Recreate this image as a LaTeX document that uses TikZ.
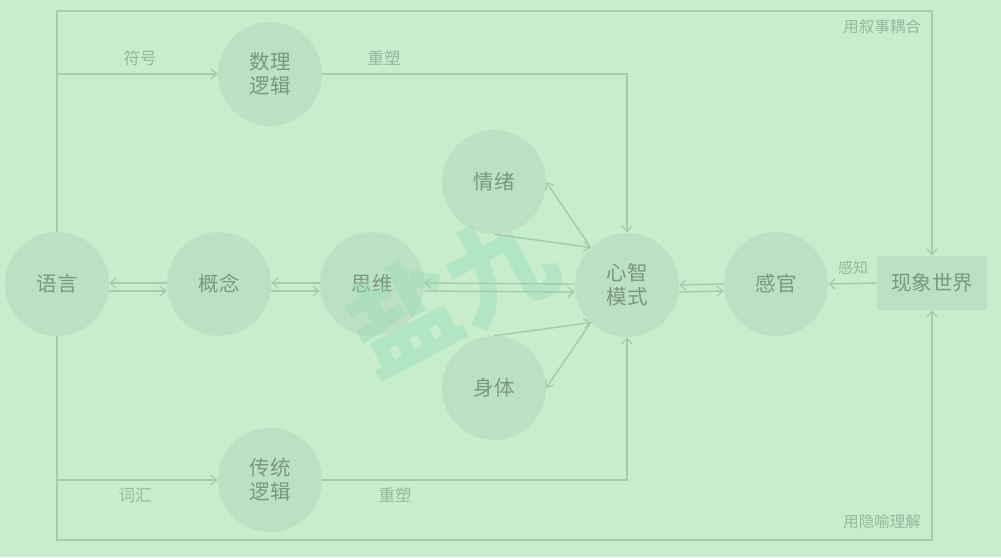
\documentclass[tikz,border=0pt]{standalone}
\usepackage{fontspec}
\newfontfamily\cjk{Noto Sans CJK SC}
\usetikzlibrary{arrows.meta}
\definecolor{bg}{HTML}{C7EDCC}
\definecolor{disc}{HTML}{BCE0C3}
\definecolor{wire}{HTML}{A5CAAC}
\definecolor{ink}{HTML}{7A977F}
\definecolor{softink}{HTML}{98B79E}
\definecolor{mark}{HTML}{96DAB8}
\begin{document}
\begin{tikzpicture}[x=1pt,y=-1pt,
  circ/.style={circle,fill=disc,minimum size=104pt,inner sep=0pt,
    text=ink,font=\cjk\fontsize{20.5}{24}\selectfont,align=center},
  boxnode/.style={rectangle,fill=disc,minimum width=110pt,minimum height=54pt,
    inner sep=0pt,text=ink,font=\cjk\fontsize{20.5}{24}\selectfont},
  lbl/.style={text=softink,font=\cjk\fontsize{16.5}{18}\selectfont,inner sep=0pt},
  corner/.style={text=softink,font=\cjk\fontsize{15.5}{18}\selectfont,inner sep=0pt},
  wirestyle/.style={draw=wire,line width=1.4pt},
  arr/.style={wirestyle,-{Straight Barb[length=6pt,width=10pt,line width=1.2pt]}},
]
% canvas
\fill[bg] (0,0) rectangle (1001,557);
\useasboundingbox (0,0) rectangle (1001,557);

% nodes
\node[circ] (yy) at (57,284) {语言};
\node[circ] (gn) at (219,284) {概念};
\node[circ] (sw) at (372,284) {思维};
\node[circ] (xz) at (627,285) {心智\\模式};
\node[circ] (gg) at (776,284) {感官};
\node[boxnode] (world) at (932,283) {现象世界};
\node[circ] (sl) at (270,74) {数理\\逻辑};
\node[circ] (ct) at (270,480) {传统\\逻辑};
\node[circ] (qx) at (494,182) {情绪};
\node[circ] (st) at (494,388) {身体};

% watermark
\node[text=mark,opacity=0.42,font=\cjk\bfseries\fontsize{108}{108}\selectfont,
  rotate=28,inner sep=0pt] (wm) at (451,292) {盐九};

% outer frame
\coordinate (tl) at (57,11);
\coordinate (bl) at (57,540);
\draw[arr] (yy.north) -- (tl) -| (world.north);
\draw[arr] (yy.south) -- (bl) -| (world.south);

% logic branches
\draw[arr] (yy.north |- sl.west) -- (sl.west);
\draw[arr] (sl.east) -| (xz.north);
\draw[arr] (yy.south |- ct.west) -- (ct.west);
\draw[arr] (ct.east) -| (xz.south);

% paired arrows along the main row
\draw[arr] ([yshift=1pt]gn.west) -- ([yshift=1pt]yy.east);
\draw[arr] ([yshift=-7pt]yy.east) -- ([yshift=-7pt]gn.west);
\draw[arr] ([yshift=1pt]sw.west) -- ([yshift=1pt]gn.east);
\draw[arr] ([yshift=-7pt]gn.east) -- ([yshift=-7pt]sw.west);
\draw[arr] ([yshift=1pt]xz.west) -- ([yshift=1pt]sw.east);
\draw[arr] ([yshift=-7pt]sw.east) -- ([yshift=-7pt]xz.west);
\draw[arr] ([yshift=0pt]gg.west) -- ([yshift=0pt]xz.east);
\draw[arr] ([yshift=-7pt]xz.east) -- ([yshift=-7pt]gg.west);
\draw[arr] (world.west) -- (gg.east);

% emotion and body links
\draw[arr] (qx.south) -- (xz.134);
\draw[arr] (xz.134) -- (qx.0);
\draw[arr] (st.north) -- (xz.226);
\draw[arr] (xz.226) -- (st.0);

% labels
\node[lbl] (l1) at (140,58) {符号};
\node[lbl] (l2) at (384,58) {重塑};
\node[lbl] (l3) at (135,495) {词汇};
\node[lbl] (l4) at (395,495) {重塑};
\node[lbl,font=\cjk\fontsize{15}{18}\selectfont] (l5) at (853,268) {感知};
\node[corner,anchor=east] (l6) at (921,27) {用叙事耦合};
\node[corner,anchor=east] (l7) at (921,522) {用隐喻理解};
\end{tikzpicture}
\end{document}
